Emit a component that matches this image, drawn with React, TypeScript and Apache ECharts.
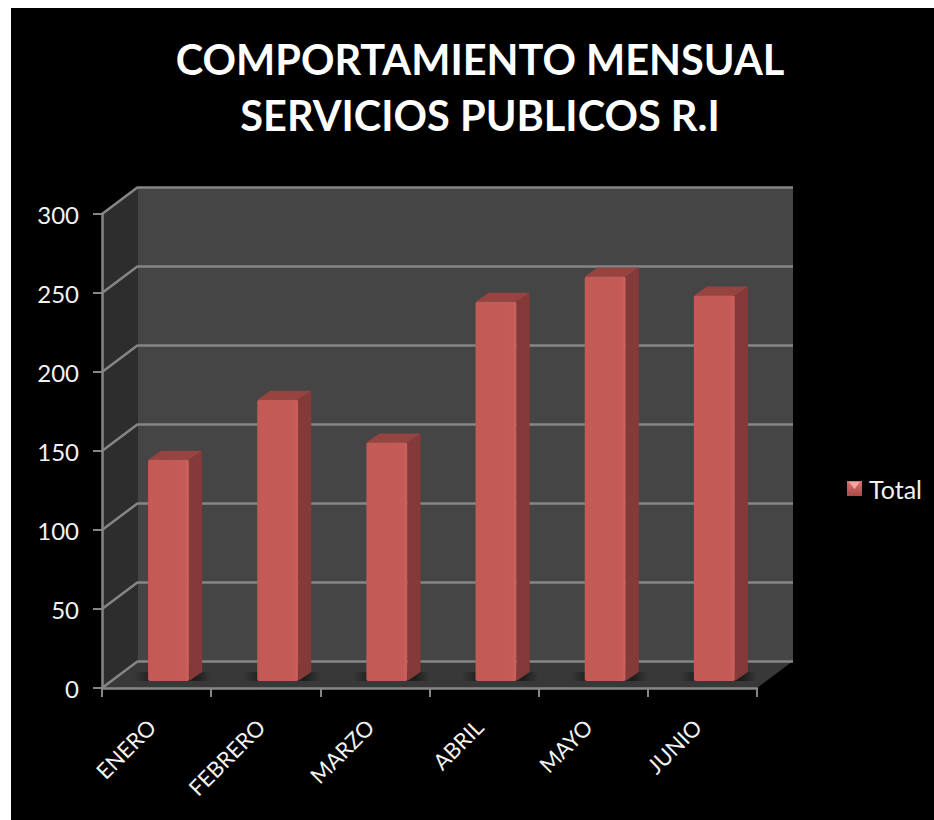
import React, { useEffect, useRef } from "react";
import * as echarts from "echarts";

const categories = ["ENERO", "FEBRERO", "MARZO", "ABRIL", "MAYO", "JUNIO"];
const totals = [140, 178, 151, 240, 256, 244];
const yTicks = [0, 50, 100, 150, 200, 250, 300];
const seriesName = "Total";
const titleText = "COMPORTAMIENTO MENSUAL\nSERVICIOS PUBLICOS R.I";

const W = 934, H = 820;
const FL = 102, FR = 757, FT = 214, FB = 688;   // front plane
const DX = 36, DY = 27;                          // wall depth
const BX = 12, BY = 7;                           // bar plane offset
const SX = 13, SY = 9;                           // bar depth
const LINE = "#868686";
const TEXT = "#f2f2f2";
const FONT = "Lato, 'Open Sans', sans-serif";

const grid = (dx: number, dy: number) => ({
  left: FL + dx, top: FT - dy, width: FR - FL, height: FB - FT,
});
const xAxis = (i: number, visible: boolean) => ({
  type: "category", gridIndex: i, data: categories, show: visible,
  axisLine: { show: visible, lineStyle: { color: LINE, width: 2.5 } },
  axisTick: { show: visible, length: 9, lineStyle: { color: LINE, width: 2 } },
  axisLabel: { show: visible, rotate: 45, color: TEXT, fontFamily: FONT, fontSize: 22, margin: 30, padding: [0, 7, 0, 0] },
  splitLine: { show: false },
});
const yAxis = (i: number) => ({
  type: "value", gridIndex: i, min: 0, max: 300, interval: 50,
  show: i !== 2,
  axisLine: { show: i === 0, lineStyle: { color: LINE, width: 2.5 } },
  axisTick: { show: i === 0, length: 9, lineStyle: { color: LINE, width: 2 } },
  axisLabel: { show: i === 0, color: TEXT, fontFamily: FONT, fontSize: 24, margin: 23 },
  splitLine: { show: i === 1, lineStyle: { color: LINE, width: 2.5 } },
});

const frontFill = new echarts.graphic.LinearGradient(0, 0, 1, 0, [
  { offset: 0, color: "#c25a56" },
  { offset: 0.9, color: "#c45b57" },
  { offset: 0.97, color: "#d0605c" },
  { offset: 1, color: "#b04f4c" },
]);
const floorShadow = new echarts.graphic.LinearGradient(0, 0, 1, 0, [
  { offset: 0, color: "rgba(20,20,20,0)" },
  { offset: 0.25, color: "rgba(20,20,20,0.75)" },
  { offset: 0.8, color: "rgba(20,20,20,0.75)" },
  { offset: 1, color: "rgba(20,20,20,0)" },
]);

const renderBar = (_: any, api: any) => {
  const [cx, top] = api.coord([api.value(0), api.value(1)]);
  const [, base] = api.coord([api.value(0), 0]);
  const w = api.size([1, 0])[0] * 0.376;
  const x0 = cx - w / 2, x1 = cx + w / 2;
  return {
    type: "group",
    children: [
      { type: "rect", shape: { x: x0 - 14, y: base - SY, width: w + 36, height: SY },
        style: { fill: floorShadow } },
      { type: "polygon",
        shape: { points: [[x1, top], [x1 + SX, top - SY], [x1 + SX, base - SY], [x1, base]] },
        style: { fill: "#843a38" } },
      { type: "polygon",
        shape: { points: [[x0, top], [x0 + SX, top - SY], [x1 + SX, top - SY], [x1, top]] },
        style: { fill: "#974340" } },
      { type: "rect", shape: { x: x0, y: top, width: w, height: base - top, r: 2 },
        style: { fill: frontFill } },
    ],
  };
};

const renderSideLine = (_: any, api: any) => {
  const y = api.coord([0, api.value(0)])[1];
  return {
    type: "line",
    shape: { x1: FL, y1: y, x2: FL + DX, y2: y - DY },
    style: { stroke: LINE, lineWidth: 2.5 },
  };
};

export default function App() {
  const ref = useRef<HTMLDivElement>(null);
  useEffect(() => {
    const chart = echarts.init(ref.current!, null, { renderer: "svg" });
    chart.setOption({
      animation: false,
      backgroundColor: "#ffffff",
      title: {
        text: titleText, left: 475, top: 26, textAlign: "center",
        textStyle: { color: "#ffffff", fontFamily: FONT, fontWeight: "bold", fontSize: 41.5, lineHeight: 56 },
      },
      legend: {
        left: 842, top: 471, itemWidth: 15, itemHeight: 15, itemGap: 0,
        data: [{
          name: seriesName, icon: "rect",
          itemStyle: {
            color: new echarts.graphic.LinearGradient(0, 0, 0, 1, [
              { offset: 0, color: "#d9736f" },
              { offset: 1, color: "#a84a47" },
            ]),
          },
        }],
        textStyle: { color: TEXT, fontFamily: FONT, fontSize: 25, padding: [0, 0, 6, 2] },
      },
      grid: [grid(0, 0), grid(DX, DY), grid(BX, BY)],
      xAxis: [xAxis(0, true), xAxis(1, false), xAxis(2, false)],
      yAxis: [yAxis(0), yAxis(1), yAxis(2)],
      graphic: [
        { type: "rect", z: -30, shape: { x: 11, y: 8, width: W - 11, height: H - 8 }, style: { fill: "#000" } },
        { type: "polygon", z: -20,
          shape: { points: [[FL + DX, FT - DY], [FR + DX, FT - DY], [FR + DX, FB - DY], [FL + DX, FB - DY]] },
          style: { fill: "#454545" } },
        { type: "polygon", z: -20,
          shape: { points: [[FL, FT], [FL + DX, FT - DY], [FL + DX, FB - DY], [FL, FB]] },
          style: { fill: "#2d2d2d" } },
        { type: "polygon", z: -20,
          shape: { points: [[FL, FB], [FL + DX, FB - DY], [FR + DX, FB - DY], [FR, FB]] },
          style: { fill: "#383838" } },
        { type: "polygon", z: 10,
          shape: { points: [[849, 482], [860, 482], [854.5, 489]] },
          style: { fill: "#f0a8a4" } },
      ],
      series: [
        {
          type: "custom", name: "grid-side", xAxisIndex: 0, yAxisIndex: 0, z: 1,
          silent: true, renderItem: renderSideLine, data: yTicks.map((t) => [t]),
          encode: { y: 0 },
        },
        {
          type: "custom", name: seriesName, xAxisIndex: 2, yAxisIndex: 2, z: 3,
          renderItem: renderBar, data: totals.map((v, i) => [i, v]),
          encode: { x: 0, y: 1 }, itemStyle: { color: "#c25a56" },
        },
      ],
    });
    return () => chart.dispose();
  }, []);
  return <div ref={ref} style={{ position: "absolute", left: 0, top: 0, width: W, height: H }} />;
}
